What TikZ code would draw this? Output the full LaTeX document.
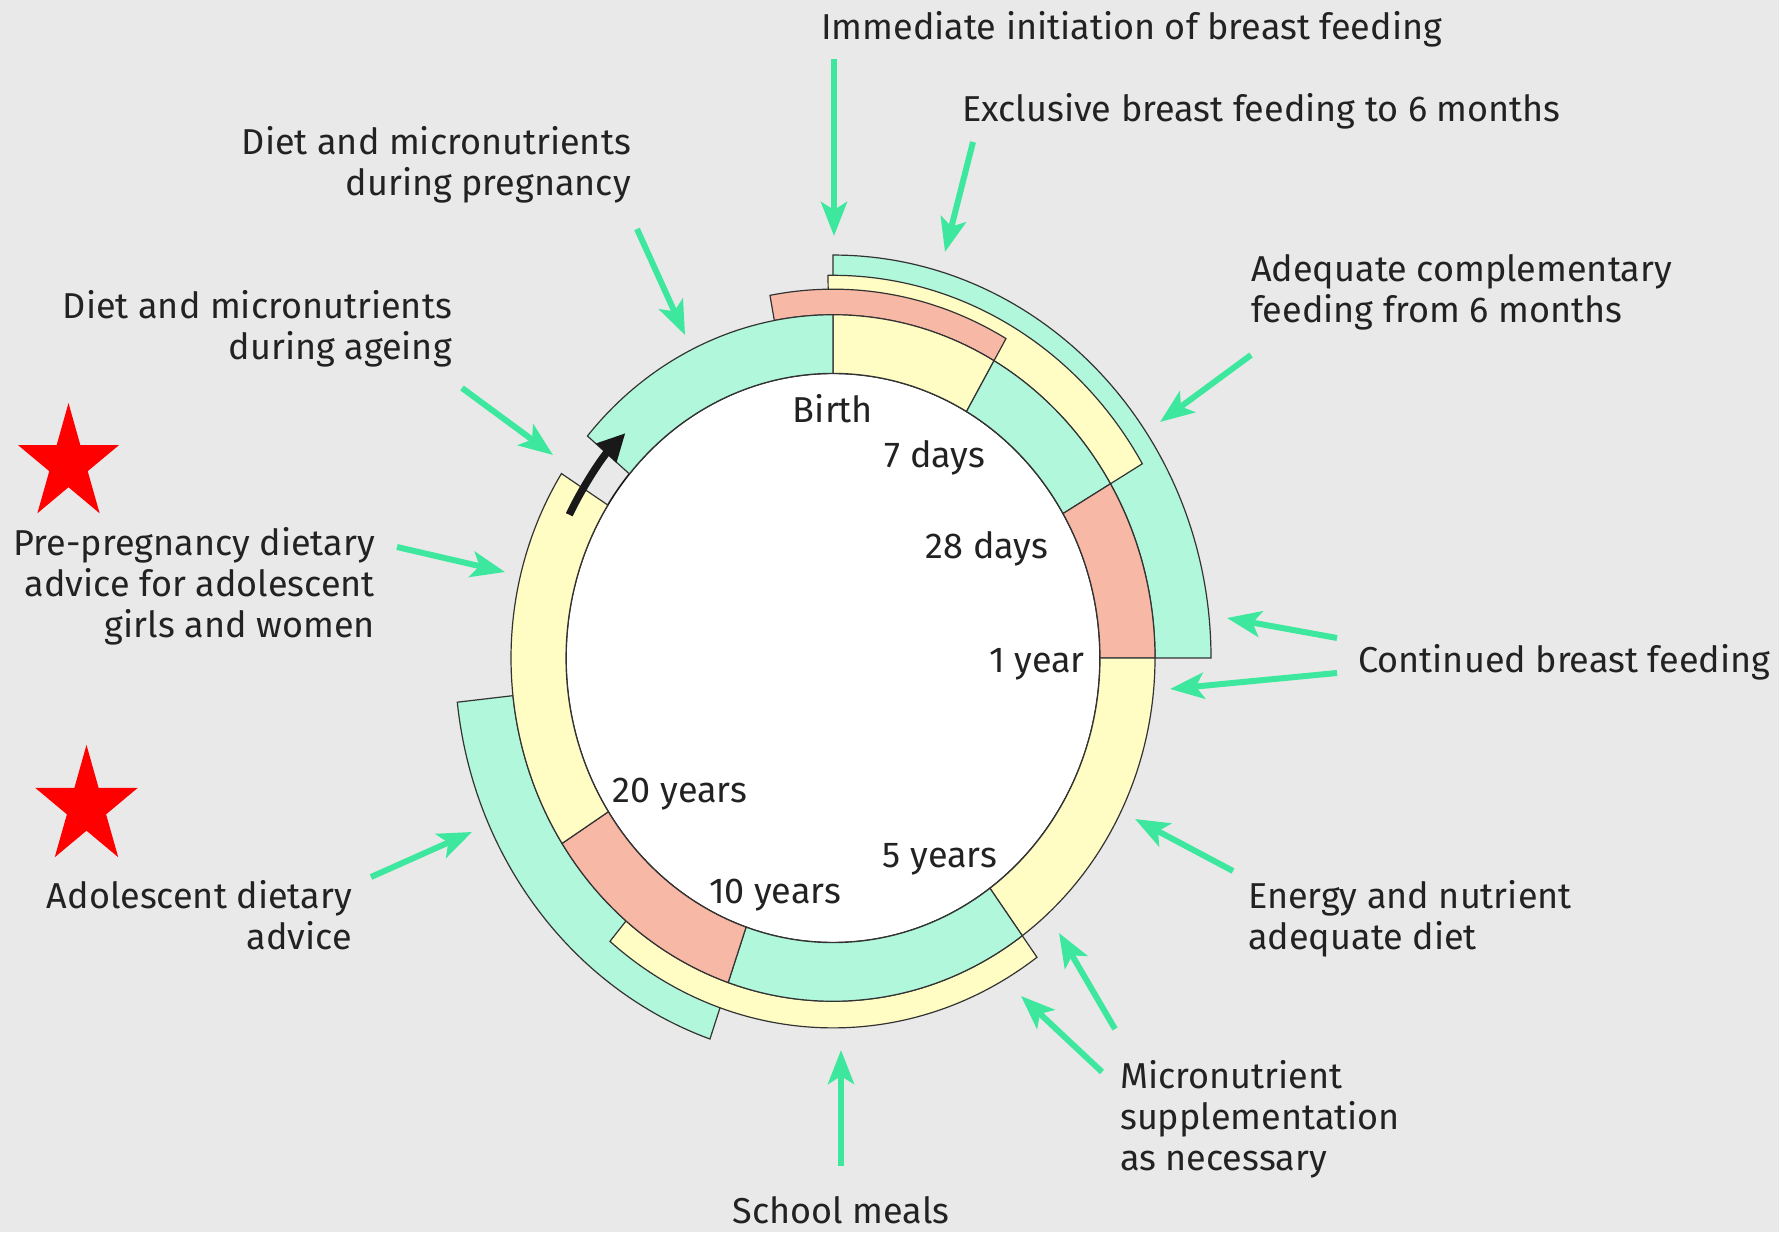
\documentclass[tikz,border=0pt]{standalone}
\usepackage{fontspec}
\setmainfont{Fira Sans}
\usetikzlibrary{arrows.meta}
\definecolor{bg}{HTML}{E9E9E9}
\definecolor{mint}{HTML}{B0F7DB}
\definecolor{lyel}{HTML}{FFFDC4}
\definecolor{salmon}{HTML}{F8B8A6}
\definecolor{agreen}{HTML}{3DE89E}
\definecolor{txt}{HTML}{222222}
\newcommand\annsec[5]{\path[band,fill=#1] (#2:#4) arc[start angle=#2, end angle=#3, radius=#4] -- (#3:#5) arc[start angle=#3, end angle=#2, radius=#5] -- cycle;}
\begin{document}
\begin{tikzpicture}[x=1pt,y=1pt,
  lbl/.style={font=\fontsize{36}{41}\selectfont, text=txt, inner sep=0pt},
  band/.style={draw=black!80, line width=1.2pt},
  garrow/.style={draw=agreen, line width=6pt, -{Stealth[length=34pt,width=26pt,inset=8pt]}},
]
\fill[bg] (0,0) rectangle (1779,1232);
\useasboundingbox (0,0) rectangle (1779,1232);
% ---- rings ----
\begin{scope}[shift={(833,574)}, yscale=1.066]
  \annsec{mint}{186.3}{251}{322}{378}
  \annsec{lyel}{230}{306}{322}{347}
  \annsec{mint}{90}{0}{322}{378}
  \annsec{lyel}{90.8}{30.5}{322}{359}
  \annsec{salmon}{100.5}{60}{322}{346}
  \path[band, fill=white, draw=black!90, line width=1.6pt] (0,0) circle[radius=267];
  \annsec{lyel}{90}{60}{267}{322}
  \annsec{mint}{60}{30.5}{267}{322}
  \annsec{salmon}{30.5}{0}{267}{322}
  \annsec{lyel}{0}{-54}{267}{322}
  \annsec{mint}{-54}{-109}{267}{322}
  \annsec{salmon}{-109}{-147.3}{267}{322}
  \annsec{lyel}{-147.3}{-212.5}{267}{322}
  \annsec{mint}{139.7}{90}{267}{322}
  \draw[line width=7.5pt, black!90, -{Triangle[length=28pt,width=26pt]}] (153:296) arc[start angle=153, end angle=134.5, radius=296];
\end{scope}
% ---- ring labels ----
\node[lbl, anchor=base] (birth) at (833,809) {Birth};
\node[lbl, anchor=base] (d7) at (935,764) {7 days};
\node[lbl, anchor=base] (d28) at (987,673) {28 days};
\node[lbl, anchor=base] (y1) at (1037,559) {1 year};
\node[lbl, anchor=base] (y5) at (940,364) {5 years};
\node[lbl, anchor=base] (y10) at (775,329) {10 years};
\node[lbl, anchor=base] (y20) at (680,429) {20 years};
% ---- outer labels ----
\node[lbl, anchor=base west] (imm) at (821,1192) {Immediate initiation of breast feeding};
\node[lbl, anchor=base west] (excl) at (962,1110) {Exclusive breast feeding to 6 months};
\node[lbl, anchor=north east, align=right] (preg) at (631,1106) {\rule{0pt}{28pt}Diet and micronutrients\\during pregnancy};
\node[lbl, anchor=north east, align=right] (age) at (452,942) {\rule{0pt}{28pt}Diet and micronutrients\\during ageing};
\node[lbl, anchor=north west, align=left] (compl) at (1251,979) {\rule{0pt}{28pt}Adequate complementary\\feeding from 6 months};
\node[lbl, anchor=north east, align=right] (prep) at (375,705) {\rule{0pt}{28pt}Pre-pregnancy dietary\\advice for adolescent\\girls and women};
\node[lbl, anchor=base west] (cont) at (1358,559) {Continued breast feeding};
\node[lbl, anchor=north west, align=left] (energy) at (1248,352) {\rule{0pt}{28pt}Energy and nutrient\\adequate diet};
\node[lbl, anchor=north east, align=right] (adol) at (352,352) {\rule{0pt}{28pt}Adolescent dietary\\advice};
\node[lbl, anchor=north west, align=left] (micro) at (1120,172) {\rule{0pt}{28pt}Micronutrient\\supplementation\\as necessary};
\node[lbl, anchor=base] (school) at (841,9) {School meals};
% ---- green arrows ----
\coordinate (aT) at (834,1173); \coordinate (aH) at (834,996);
\coordinate (bT) at (973,1090); \coordinate (bH) at (945,980);
\coordinate (cT) at (637,1003); \coordinate (cH) at (685,897);
\coordinate (dT) at (462,844);  \coordinate (dH) at (553,777);
\coordinate (eT) at (397,685);  \coordinate (eH) at (505,660);
\coordinate (fT) at (1251,877); \coordinate (fH) at (1160,810);
\coordinate (gT) at (1337,594); \coordinate (gH) at (1227,614);
\coordinate (hT) at (1337,559); \coordinate (hH) at (1170,543);
\coordinate (iT) at (1233,361); \coordinate (iH) at (1135,413);
\coordinate (jT) at (1115,203); \coordinate (jH) at (1059,299);
\coordinate (kT) at (1102,160); \coordinate (kH) at (1021,236);
\coordinate (lT) at (841,66);   \coordinate (lH) at (841,182);
\coordinate (mT) at (371,355);  \coordinate (mH) at (472,400);
\foreach \p in {a,b,c,d,e,f,g,h,i,j,k,l,m}{\draw[garrow] (\p T) -- (\p H);}
% ---- stars ----
\begin{scope}[shift={(68.5,768)}, yscale=1.15]
  \fill[red] (90:53) -- (126:20.2) -- (162:53) -- (198:20.2) -- (234:53) -- (270:20.2) -- (306:53) -- (342:20.2) -- (18:53) -- (54:20.2) -- cycle;
\end{scope}
\begin{scope}[shift={(86.5,425)}, yscale=1.15]
  \fill[red] (90:54) -- (126:20.6) -- (162:54) -- (198:20.6) -- (234:54) -- (270:20.6) -- (306:54) -- (342:20.6) -- (18:54) -- (54:20.6) -- cycle;
\end{scope}
\end{tikzpicture}
\end{document}
